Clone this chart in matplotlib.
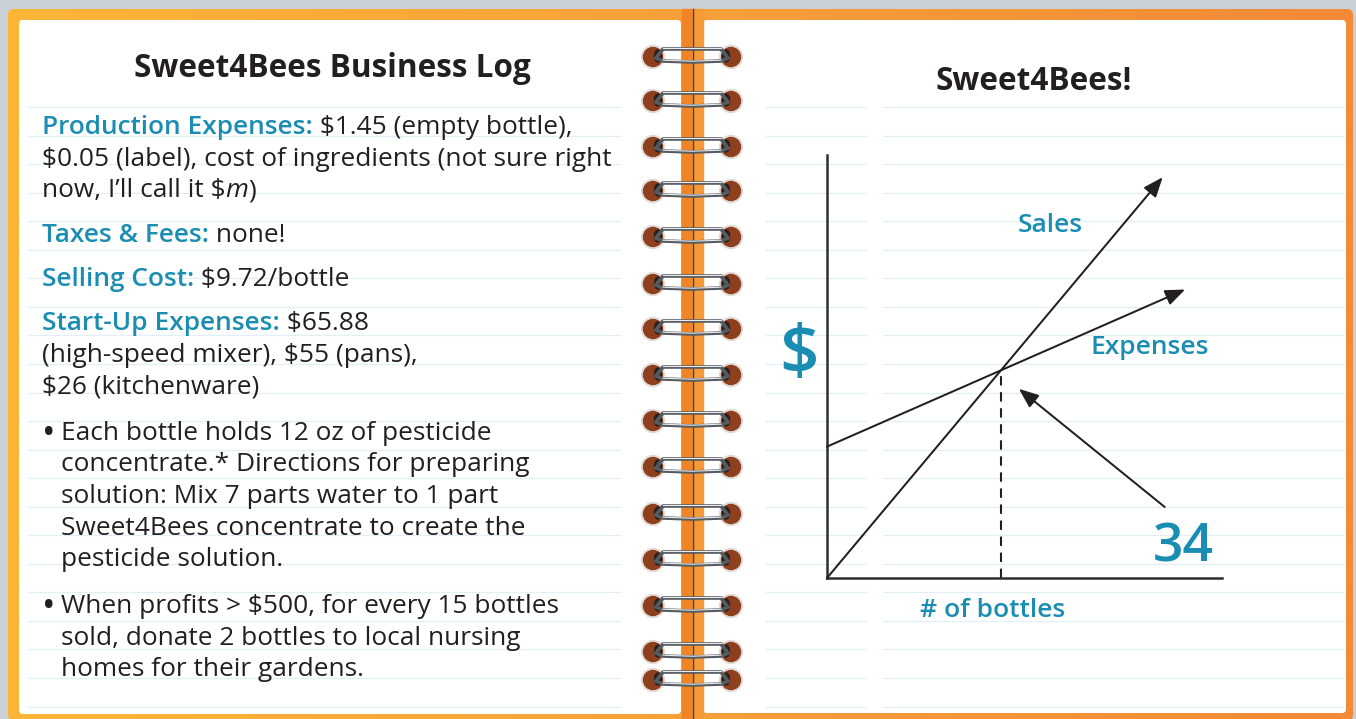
import matplotlib
matplotlib.use("Agg")
import matplotlib.pyplot as plt
import numpy as np
from matplotlib.patches import Rectangle, FancyBboxPatch, Circle, Ellipse
from matplotlib.colors import LinearSegmentedColormap

# ---------------- data ----------------
sales_x = [0, 65.6]            # bottles
sales_y = [0, 637.6]           # dollars (9.72 per bottle)
expenses_x = [0, 70.0]
expenses_y = [209.0, 459.0]
break_even_x = 34
break_even_y = 330.5
x_axis_max = 77.2
y_axis_max = 673.0
callout_from = (66.0, 113.0)
callout_to = (37.5, 301.0)

left_title = "Sweet4Bees Business Log"
right_title = "Sweet4Bees!"
log_lines = [
    [("Production Expenses:", "teal", "normal"), (" \\$1.45 (empty bottle),", "ink", "normal")],
    [("\\$0.05 (label), cost of ingredients (not sure right", "ink", "normal")],
    [("now, I\u2019ll call it \\$", "ink", "normal"), ("m", "ink", "italic"), (")", "ink", "normal")],
    [("Taxes & Fees:", "teal", "normal"), (" none!", "ink", "normal")],
    [("Selling Cost:", "teal", "normal"), (" \\$9.72/bottle", "ink", "normal")],
    [("Start-Up Expenses:", "teal", "normal"), (" \\$65.88", "ink", "normal")],
    [("(high-speed mixer), \\$55 (pans),", "ink", "normal")],
    [("\\$26 (kitchenware)", "ink", "normal")],
    [("Each bottle holds 12 oz of pesticide", "ink", "normal")],
    [("concentrate.* Directions for preparing", "ink", "normal")],
    [("solution: Mix 7 parts water to 1 part", "ink", "normal")],
    [("Sweet4Bees concentrate to create the", "ink", "normal")],
    [("pesticide solution.", "ink", "normal")],
    [("When profits > \\$500, for every 15 bottles", "ink", "normal")],
    [("sold, donate 2 bottles to local nursing", "ink", "normal")],
    [("homes for their gardens.", "ink", "normal")],
]
log_baselines = [134, 166, 197, 242, 286, 330, 362, 394, 440, 471, 503, 535, 566, 613, 645, 676]
log_indent = [42, 42, 42, 42, 42, 42, 42, 42, 61, 61, 61, 61, 61, 61, 61, 61]
bullet_rows = [8, 13]
ring_rows = [57, 101, 147, 191, 237, 284, 329, 375, 421, 467, 514, 560, 606, 652, 680]

# ---------------- styles ----------------
TEAL = "#1a8db3"
INK = "#231f20"
COL = {"teal": TEAL, "ink": INK}
FONT = ["Open Sans", "DejaVu Sans"]
plt.rcParams["font.family"] = FONT

W, H = 1356, 719
fig = plt.figure(figsize=(W / 100, H / 100), dpi=100)
bg = fig.add_axes([0, 0, 1, 1])
bg.set_xlim(0, W)
bg.set_ylim(H, 0)
bg.axis("off")
bg.add_patch(Rectangle((0, 0), W, H, color="#c9d1d6", zorder=0))

# orange cover with gradient
frame = FancyBboxPatch((8, 9), 1345, 712, boxstyle="round,pad=0,rounding_size=6",
                       facecolor="none", edgecolor="none", zorder=1)
bg.add_patch(frame)
cmap = LinearSegmentedColormap.from_list("cov", ["#fbb637", "#f7a03a", "#f28a37"])
grad = np.linspace(0, 1, 256).reshape(1, -1)
im = bg.imshow(grad, extent=(8, 1353, 721, 9), cmap=cmap, aspect="auto", zorder=1)
im.set_clip_path(frame)

# pages
for x0, x1, y1 in [(19, 681, 714), (703, 1346, 713)]:
    bg.add_patch(FancyBboxPatch((x0, 20), x1 - x0, y1 - 20,
                                boxstyle="round,pad=0,rounding_size=4",
                                facecolor="white", edgecolor="none", zorder=2))

# ruled lines
RULE = "#e3eff6"
for yy in np.arange(107, 708, 28.55):
    bg.plot([28, 620], [yy, yy], color=RULE, lw=0.9, zorder=3)
    bg.plot([766, 866], [yy, yy], color=RULE, lw=0.9, zorder=3)
    bg.plot([883, 1343], [yy, yy], color=RULE, lw=0.9, zorder=3)

# spine
bg.add_patch(Rectangle((682, 9), 10, 712, color="#f18526", zorder=4))
bg.add_patch(Rectangle((692, 9), 11, 712, color="#f69a38", zorder=4))
bg.plot([692.5, 692.5], [9, 719], color="#4a3a33", lw=1.0, zorder=5)

# spiral rings
for y0 in ring_rows:
    for hx in (653, 731):
        bg.add_patch(Circle((hx, y0), 11.5, color="#e2dcd8", zorder=6))
        bg.add_patch(Circle((hx, y0), 9.5, color="#8e3f1d", zorder=6))
        bg.add_patch(Ellipse((hx + (5 if hx < 692 else -5), y0 - 1), 7, 12,
                             color="#2c211e", zorder=6))
    for dy, sag in ((-8, 0.0), (4, 1.0)):
        xs = np.array([656, 663, 692, 721, 728])
        ys = np.array([y0 + 1, y0 + dy, y0 + dy + sag, y0 + dy, y0 + 1])
        bg.plot(xs, ys, color="#555b62", lw=2.6, zorder=7, solid_capstyle="round",
                solid_joinstyle="round")
        bg.plot(xs[1:-1], ys[1:-1] - 0.8, color="#e8eaec", lw=0.8, zorder=8)

# titles
bg.text(332, 77, left_title, ha="center", va="baseline", fontsize=22.7,
        fontweight="bold", color=INK, zorder=10)
bg.text(1034, 90, right_title, ha="center", va="baseline", fontsize=22.7,
        fontweight="bold", color=INK, zorder=10)

# log text
BODY = 18.9
for parts, yb, xi in zip(log_lines, log_baselines, log_indent):
    prev = None
    for s, c, st in parts:
        kw = dict(fontsize=BODY, color=COL[c], va="baseline", ha="left", zorder=10,
                  fontstyle="italic" if st == "italic" else "normal",
                  fontweight="semibold" if c == "teal" else "normal")
        if prev is None:
            prev = bg.text(xi, yb, s, **kw)
        else:
            prev = bg.annotate(s, xy=(1, yb), xycoords=(prev, "data"), **kw)
for r in bullet_rows:
    bg.text(49, log_baselines[r] + 4, "\u2022", fontsize=26, color=INK, ha="center",
            va="baseline", zorder=10)

# ---------------- the graph ----------------
ox, oy, gw, gh = 827, 578, 395, 423
ax = fig.add_axes([ox / W, (H - oy) / H, gw / W, gh / H])
ax.set_xlim(0, x_axis_max)
ax.set_ylim(0, y_axis_max)
ax.patch.set_alpha(0)
for s in ("top", "right"):
    ax.spines[s].set_visible(False)
for s in ("left", "bottom"):
    ax.spines[s].set_color("#2e2e2e")
    ax.spines[s].set_linewidth(1.8)
ax.set_xticks([])
ax.set_yticks([])

arrow = dict(arrowstyle="-|>,head_length=0.75,head_width=0.3", color=INK, lw=1.45,
             mutation_scale=16, shrinkA=0, shrinkB=0)
ax.annotate("", xy=(sales_x[1], sales_y[1]), xytext=(sales_x[0], sales_y[0]),
            arrowprops=arrow, annotation_clip=False)
ax.annotate("", xy=(expenses_x[1], expenses_y[1]), xytext=(expenses_x[0], expenses_y[0]),
            arrowprops=arrow, annotation_clip=False)
ax.plot([break_even_x, break_even_x], [0, break_even_y], color=INK, lw=1.5,
        linestyle=(0, (4.5, 3.2)))
ax.annotate("", xy=callout_to, xytext=callout_from, arrowprops=arrow,
            annotation_clip=False)

# graph labels
bg.text(799, 357, "$", fontsize=50, fontweight="semibold", color=TEAL, ha="center",
        va="center", zorder=10)
bg.text(1050, 232, "Sales", fontsize=19, fontweight="semibold", color=TEAL,
        ha="center", va="baseline", zorder=10)
bg.text(1150, 354, "Expenses", fontsize=19, fontweight="semibold", color=TEAL,
        ha="center", va="baseline", zorder=10)
bg.text(993, 617, "# of bottles", fontsize=19, fontweight="semibold", color=TEAL,
        ha="center", va="baseline", zorder=10)
bg.text(1183, 562, "34", fontsize=38.5, fontweight="semibold", color=TEAL,
        ha="center", va="baseline", zorder=10)

fig.savefig("out.png", dpi=100)
